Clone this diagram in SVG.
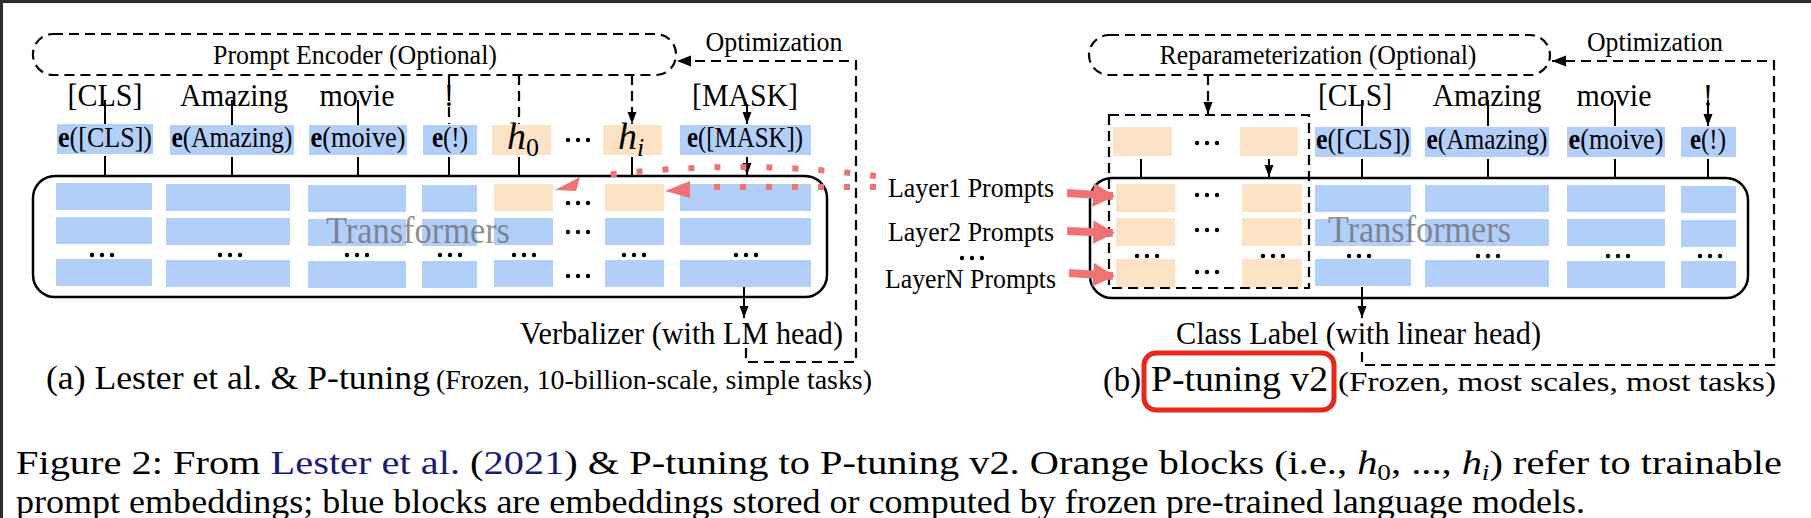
<svg xmlns="http://www.w3.org/2000/svg" width="1811" height="518" viewBox="0 0 1811 518">
<style>
.t{font-family:"Liberation Serif","Times New Roman",Times,serif;fill:#000}
.blue{fill:#b2cffa}
.org{fill:#fde3c5}
.dash{fill:none;stroke:#000;stroke-width:2.2;stroke-dasharray:10 6}
.arr{fill:none;stroke:#000;stroke-width:2}
.box{fill:none;stroke:#000;stroke-width:2.5}
.tf{font-family:"Liberation Serif","Times New Roman",Times,serif;fill:#6a6a6a;fill-opacity:0.75;font-size:37px}
.dot{fill:none;stroke:#f07373;stroke-width:6;stroke-dasharray:6 20}
.red{fill:none;stroke:#f07373;stroke-width:8}
.navy{fill:#1b1a7a}
</style>
<defs>
<marker id="ah" markerUnits="userSpaceOnUse" markerWidth="12" markerHeight="10" refX="12" refY="5" orient="auto"><path d="M0,0.5 L12,5 L0,9.5 z" fill="#000"/></marker>
<marker id="ahb" markerUnits="userSpaceOnUse" markerWidth="14" markerHeight="12" refX="14" refY="6" orient="auto"><path d="M0,0.5 L14,6 L0,11.5 z" fill="#000"/></marker>
<marker id="rah2" markerUnits="userSpaceOnUse" markerWidth="22" markerHeight="24" refX="20" refY="12" orient="auto"><path d="M0,0 L22,12 L0,24 z" fill="#f07373"/></marker>
<symbol id="dots" overflow="visible"><circle cx="-10" cy="0" r="2.2" fill="#000"/><circle cx="0" cy="0" r="2.2" fill="#000"/><circle cx="10" cy="0" r="2.2" fill="#000"/></symbol>
</defs>
<rect x="0" y="0" width="1811" height="518" fill="#fff"/>
<rect x="0" y="0" width="1811" height="3" fill="#2d2d2d"/>
<rect x="0" y="0" width="3" height="518" fill="#2d2d2d"/>

<!-- ===== Panel (a) ===== -->
<g id="prompt-encoder">
<rect x="33" y="34" width="643" height="41" rx="20" class="dash"/>
<text class="t" x="355" y="64" font-size="27" text-anchor="middle" textLength="284" lengthAdjust="spacingAndGlyphs">Prompt Encoder (Optional)</text>
</g>
<g id="opt-a"><text class="t" x="774" y="51" font-size="28" text-anchor="middle" textLength="137" lengthAdjust="spacingAndGlyphs">Optimization</text></g>

<g id="tokens-a" class="t" font-size="31" text-anchor="middle">
<text x="105" y="106" textLength="75" lengthAdjust="spacingAndGlyphs">[CLS]</text>
<text x="234" y="106" textLength="108" lengthAdjust="spacingAndGlyphs">Amazing</text>
<text x="357" y="106" textLength="75" lengthAdjust="spacingAndGlyphs">movie</text>
<text x="449" y="106">!</text>
<text x="745" y="106" textLength="106" lengthAdjust="spacingAndGlyphs">[MASK]</text>
</g>

<g id="emb-a">
<rect x="57" y="124" width="96" height="30" class="blue"/>
<rect x="170" y="125" width="124" height="30" class="blue"/>
<rect x="309" y="125" width="98" height="30" class="blue"/>
<rect x="423" y="125" width="54" height="30" class="blue"/>
<rect x="492" y="125" width="59" height="30" class="org"/>
<rect x="603" y="125" width="59" height="30" class="org"/>
<rect x="680" y="125" width="131" height="30" class="blue"/>
<g class="t" font-size="29" text-anchor="middle">
<text x="105" y="147" textLength="94" lengthAdjust="spacingAndGlyphs"><tspan font-weight="bold">e</tspan>([CLS])</text>
<text x="232" y="147" textLength="121" lengthAdjust="spacingAndGlyphs"><tspan font-weight="bold">e</tspan>(Amazing)</text>
<text x="358" y="147" textLength="95" lengthAdjust="spacingAndGlyphs"><tspan font-weight="bold">e</tspan>(moive)</text>
<text x="450" y="147" textLength="36" lengthAdjust="spacingAndGlyphs"><tspan font-weight="bold">e</tspan>(!)</text>
<text x="745" y="147" textLength="116" lengthAdjust="spacingAndGlyphs"><tspan font-weight="bold">e</tspan>([MASK])</text>
</g>
<text class="t" x="507" y="149" font-size="38" font-style="italic">h<tspan font-style="normal" font-size="26" dy="7">0</tspan></text>
<text class="t" x="618" y="149" font-size="38" font-style="italic">h<tspan font-size="26" dy="7">i</tspan></text>
<use href="#dots" x="578" y="140"/>
</g>

<g id="transformer-a">
<rect x="33" y="176" width="794" height="121" rx="22" class="box"/>
<g class="blue">
<rect x="56" y="183" width="96" height="27"/><rect x="56" y="217" width="96" height="27"/><rect x="56" y="259" width="96" height="27"/>
<rect x="166" y="184" width="124" height="27"/><rect x="166" y="218" width="124" height="27"/><rect x="166" y="260" width="124" height="27"/>
<rect x="308" y="185" width="98" height="27"/><rect x="308" y="219" width="98" height="27"/><rect x="308" y="261" width="98" height="27"/>
<rect x="422" y="185" width="55" height="27"/><rect x="422" y="219" width="55" height="27"/><rect x="422" y="261" width="55" height="27"/>
<rect x="494" y="218" width="59" height="27"/><rect x="494" y="260" width="59" height="27"/>
<rect x="605" y="218" width="59" height="27"/><rect x="605" y="260" width="59" height="27"/>
<rect x="680" y="184" width="131" height="27"/><rect x="680" y="218" width="131" height="27"/><rect x="680" y="260" width="131" height="27"/>
</g>
<rect x="494" y="184" width="59" height="27" class="org"/>
<rect x="605" y="184" width="59" height="27" class="org"/>
<use href="#dots" x="102" y="255"/><use href="#dots" x="230" y="255"/><use href="#dots" x="357" y="255"/><use href="#dots" x="450" y="255"/>
<use href="#dots" x="524" y="255"/><use href="#dots" x="634" y="255"/><use href="#dots" x="746" y="255"/>
<use href="#dots" x="578" y="203"/><use href="#dots" x="578" y="232"/><use href="#dots" x="578" y="276"/>
<text class="tf" x="326" y="243" textLength="184" lengthAdjust="spacingAndGlyphs">Transformers</text>
</g>

<g id="verbalizer"><text class="t" x="520" y="344" font-size="31" textLength="323" lengthAdjust="spacingAndGlyphs">Verbalizer (with LM head)</text></g>

<g id="caption-a">
<text class="t" x="46" y="389" font-size="33" textLength="384" lengthAdjust="spacingAndGlyphs">(a) Lester et al. &amp; P-tuning</text>
<text class="t" x="436" y="389" font-size="27" textLength="436" lengthAdjust="spacingAndGlyphs">(Frozen, 10-billion-scale, simple tasks)</text>
</g>

<!-- ===== Panel (b) ===== -->
<g id="reparam">
<rect x="1089" y="35" width="461" height="40" rx="20" class="dash"/>
<text class="t" x="1318" y="64" font-size="27" text-anchor="middle" textLength="317" lengthAdjust="spacingAndGlyphs">Reparameterization (Optional)</text>
</g>
<g id="opt-b"><text class="t" x="1655" y="51" font-size="28" text-anchor="middle" textLength="136" lengthAdjust="spacingAndGlyphs">Optimization</text></g>

<g id="tokens-b" class="t" font-size="31" text-anchor="middle">
<text x="1355" y="106" textLength="74" lengthAdjust="spacingAndGlyphs">[CLS]</text>
<text x="1487" y="106" textLength="109" lengthAdjust="spacingAndGlyphs">Amazing</text>
<text x="1614" y="106" textLength="75" lengthAdjust="spacingAndGlyphs">movie</text>
<text x="1708" y="106">!</text>
</g>

<g id="emb-b">
<rect x="1315" y="127" width="96" height="30" class="blue"/>
<rect x="1425" y="127" width="124" height="30" class="blue"/>
<rect x="1567" y="127" width="98" height="30" class="blue"/>
<rect x="1681" y="127" width="55" height="30" class="blue"/>
<g class="t" font-size="29" text-anchor="middle">
<text x="1363" y="149" textLength="94" lengthAdjust="spacingAndGlyphs"><tspan font-weight="bold">e</tspan>([CLS])</text>
<text x="1487" y="149" textLength="121" lengthAdjust="spacingAndGlyphs"><tspan font-weight="bold">e</tspan>(Amazing)</text>
<text x="1616" y="149" textLength="95" lengthAdjust="spacingAndGlyphs"><tspan font-weight="bold">e</tspan>(moive)</text>
<text x="1708" y="149" textLength="36" lengthAdjust="spacingAndGlyphs"><tspan font-weight="bold">e</tspan>(!)</text>
</g>
</g>

<g id="prompts-b">
<rect x="1109" y="115" width="200" height="173" class="dash"/>
<rect x="1113" y="127" width="59" height="29" class="org"/>
<rect x="1240" y="127" width="58" height="29" class="org"/>
<use href="#dots" x="1207" y="143"/>
</g>

<g id="transformer-b">
<rect x="1090" y="178" width="658" height="120" rx="22" class="box"/>
<g class="org">
<rect x="1116" y="184" width="59" height="28"/><rect x="1116" y="218" width="59" height="28"/><rect x="1116" y="259" width="59" height="28"/>
<rect x="1242" y="184" width="60" height="28"/><rect x="1242" y="218" width="60" height="28"/><rect x="1242" y="259" width="60" height="28"/>
</g>
<g class="blue">
<rect x="1315" y="185" width="96" height="27"/><rect x="1315" y="219" width="96" height="27"/><rect x="1315" y="259" width="96" height="27"/>
<rect x="1425" y="185" width="124" height="27"/><rect x="1425" y="219" width="124" height="27"/><rect x="1425" y="260" width="124" height="27"/>
<rect x="1567" y="185" width="98" height="27"/><rect x="1567" y="219" width="98" height="27"/><rect x="1567" y="261" width="98" height="27"/>
<rect x="1681" y="186" width="55" height="27"/><rect x="1681" y="220" width="55" height="27"/><rect x="1681" y="261" width="55" height="27"/>
</g>
<use href="#dots" x="1147" y="256"/><use href="#dots" x="1273" y="256"/>
<use href="#dots" x="1207" y="195"/><use href="#dots" x="1207" y="230"/><use href="#dots" x="1207" y="272"/>
<use href="#dots" x="1359" y="256"/><use href="#dots" x="1488" y="256"/><use href="#dots" x="1618" y="256"/><use href="#dots" x="1710" y="256"/>
<text class="tf" x="1328" y="242" textLength="183" lengthAdjust="spacingAndGlyphs">Transformers</text>
</g>

<g id="layer-labels" class="t" font-size="27">
<text x="888" y="197" textLength="166" lengthAdjust="spacingAndGlyphs">Layer1 Prompts</text>
<text x="888" y="241" textLength="166" lengthAdjust="spacingAndGlyphs">Layer2 Prompts</text>
<text x="885" y="288" textLength="171" lengthAdjust="spacingAndGlyphs">LayerN Prompts</text>
<use href="#dots" x="972" y="258"/>
</g>

<g id="class-label"><text class="t" x="1176" y="344" font-size="31" textLength="365" lengthAdjust="spacingAndGlyphs">Class Label (with linear head)</text></g>

<g id="caption-b">
<text class="t" x="1103" y="391" font-size="33" textLength="38" lengthAdjust="spacingAndGlyphs">(b)</text>
<rect x="1144" y="353" width="190" height="57" rx="12" fill="none" stroke="#e8261a" stroke-width="5"/>
<text class="t" x="1151" y="391" font-size="35" textLength="177" lengthAdjust="spacingAndGlyphs">P-tuning v2</text>
<text class="t" x="1338" y="391" font-size="28" textLength="438" lengthAdjust="spacingAndGlyphs">(Frozen, most scales, most tasks)</text>
</g>

<g id="figure-caption" class="t" font-size="34">
<text x="16" y="474" textLength="1766" lengthAdjust="spacingAndGlyphs">Figure 2: From <tspan class="navy">Lester et al.</tspan> (<tspan class="navy">2021</tspan>) &amp; P-tuning to P-tuning v2. Orange blocks (i.e., <tspan font-style="italic">h</tspan><tspan font-size="23" dy="6">0</tspan><tspan dy="-6">, ..., </tspan><tspan font-style="italic">h</tspan><tspan font-style="italic" font-size="23" dy="6">i</tspan><tspan dy="-6">) refer to trainable</tspan></text>
<text x="16" y="513" textLength="1569" lengthAdjust="spacingAndGlyphs">prompt embeddings; blue blocks are embeddings stored or computed by frozen pre-trained language models.</text>
</g>

<!-- ===== Connectors ===== -->
<g id="connectors">
<path class="arr" marker-end="url(#ah)" d="M105,100 V124 M232,100 V125 M358,100 V125 M747,104 V124"/>
<path class="arr" marker-end="url(#ah)" d="M105,156 V175 M232,157 V175 M358,157 V175 M449,157 V175 M519,157 V175 M632,157 V175 M747,157 V175"/>
<path class="arr" marker-end="url(#ah)" d="M744,287 V318"/>
<path class="dash" marker-end="url(#ah)" d="M449,75 V124 M519,75 V124 M632,75 V124"/>
<path class="dash" marker-end="url(#ahb)" d="M746,348 V362 H856 V61 H677"/>
<path class="dash" marker-end="url(#ah)" d="M1208,75 V114"/>
<path class="arr" marker-end="url(#ah)" d="M1362,100 V126 M1488,100 V126 M1615,100 V126 M1708,100 V126"/>
<path class="arr" marker-end="url(#ah)" d="M1362,159 V177 M1488,159 V177 M1615,159 V177 M1708,159 V177 M1141,159 V177 M1269,159 V177"/>
<path class="arr" marker-end="url(#ah)" d="M1362,287 V318"/>
<path class="dash" marker-end="url(#ahb)" d="M1362,352 V365 H1774 V61 H1552"/>
<path class="dot" d="M876,176 Q740,158 598,176"/>
<path class="dot" d="M876,187 L700,187"/>
<path d="M580,177 L555,190 L576,191 z" fill="#f07373"/>
<path d="M690,181 L665,191 L690,198 z" fill="#f07373"/>
<path class="red" marker-end="url(#rah2)" d="M1067,193 L1113,196"/>
<path class="red" marker-end="url(#rah2)" d="M1067,231 L1113,233"/>
<path class="red" marker-end="url(#rah2)" d="M1069,273 L1113,276"/>
</g>
</svg>
